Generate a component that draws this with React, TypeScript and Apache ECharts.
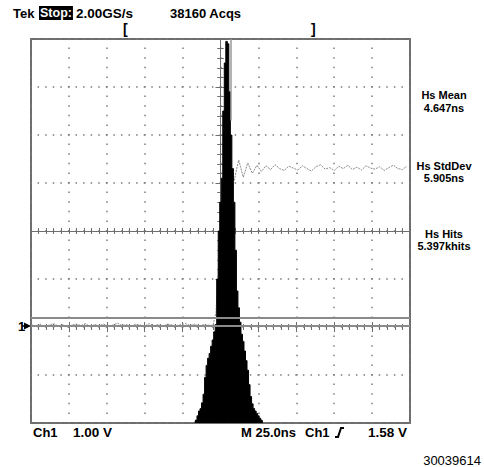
import React, { useEffect, useRef } from "react";
import * as echarts from "echarts";

// Histogram (time histogram of the rising edge), heights in screen divisions
const histStartNs = -17;
const histBinNs = 1;
const histHeightsDiv = [
  0.03, 0.06, 0.15, 0.25, 0.3, 0.42, 0.6, 0.95, 1.2, 1.35, 1.45, 1.6, 1.73, 1.9, 2.05, 3.0,
  4.0, 4.6, 5.1, 6.5, 7.5, 7.95, 7.9, 6.9, 6.0, 5.3, 4.6, 3.6, 2.75, 2.4, 2.1, 1.85, 1.7, 1.5,
  1.3, 1.1, 0.8, 0.55, 0.4, 0.3, 0.25, 0.2, 0.15, 0.1, 0.06, 0.03,
];

// Ch1 waveform samples (volts)
const lowStartNs = -125;
const sampleStepNs = 3;
const lowLevelVolts = [
  0.05, 0.02, 0.06, 0.01, 0.04, 0.07, 0.02, 0.05, 0.0, 0.04, 0.06, 0.03, 0.07, 0.01, 0.05, 0.03,
  0.06, 0.02, 0.04, 0.08, 0.03, 0.05, 0.01, 0.06, 0.04, 0.02, 0.07, 0.03, 0.05, 0.01, 0.06, 0.04,
  0.02, 0.05, 0.07, 0.03, 0.06, 0.02, 0.05, 0.04, 0.03,
];
const edgeTimesNs = [-3, -1, 1, 3];
const edgeVolts = [0.3, 1.4, 2.7, 3.4];
const highStartNs = 6;
const highLevelVolts = [
  3.52, 3.05, 3.48, 3.12, 3.42, 3.2, 3.37, 3.24, 3.36, 3.28, 3.38, 3.3, 3.26, 3.35, 3.31, 3.27,
  3.36, 3.3, 3.25, 3.34, 3.38, 3.29, 3.32, 3.26, 3.35, 3.3, 3.37, 3.28, 3.33, 3.27, 3.36, 3.31,
  3.29, 3.34, 3.26, 3.32, 3.37, 3.3, 3.28, 3.35,
];

// Histogram box limit lines (volts)
const boxLineVolts = [0.19, 0.03];

// Screen readouts
const topReadouts = ["Tek", "Stop:", "2.00GS/s", "38160 Acqs"];
const measLabels = [
  ["Hs Mean", "4.647ns"],
  ["Hs StdDev", "5.905ns"],
  ["Hs Hits", "5.397khits"],
];
const bottomReadouts = ["Ch1", "1.00 V", "M 25.0ns", "Ch1", "1.58 V"];
const figureId = "30039614";

const FRAME = "#6e6e6e";
const DOT = "#7a7a7a";
const SCOPE_FONT = "Liberation Sans";

export default function App() {
  const ref = useRef<HTMLDivElement>(null);
  useEffect(() => {
    const chart = echarts.init(ref.current!, null, { renderer: "svg" });
    const rect = { left: 31, top: 39, width: 379, height: 384 };

    const histData = histHeightsDiv.map((h, i) => [histStartNs + i * histBinNs, h]);
    const traceData: number[][] = [];
    lowLevelVolts.forEach((v, i) => traceData.push([lowStartNs + i * sampleStepNs, v]));
    edgeVolts.forEach((v, i) => traceData.push([edgeTimesNs[i], v]));
    highLevelVolts.forEach((v, i) => traceData.push([highStartNs + i * sampleStepNs, v]));

    const hidden = { show: false };
    const frameTick = {
      show: true,
      inside: true,
      length: 5,
      lineStyle: { color: FRAME, width: 1 },
    };
    const frameMinor = { show: true, splitNumber: 5, length: 3, lineStyle: { color: FRAME, width: 1 } };
    const centerTick = { show: true, inside: false, length: 3, lineStyle: { color: FRAME, width: 1 } };
    const centerMinor = { show: true, splitNumber: 5, length: 3, lineStyle: { color: FRAME, width: 1 } };
    const centerLine = { show: true, onZero: true, lineStyle: { color: FRAME, width: 1 } };

    const sfont = (size: number, weight = "bold") => ({
      fontFamily: SCOPE_FONT,
      fontSize: size,
      fontWeight: weight,
      fill: "#000",
    });

    const graphic: any[] = [
      { type: "text", x: 13, y: 13, style: { text: topReadouts[0], ...sfont(13), textVerticalAlign: "middle" } },
      {
        type: "text",
        x: 39,
        y: 13,
        style: {
          text: topReadouts[1],
          ...sfont(12.5),
          fill: "#fff",
          backgroundColor: "#000",
          padding: [1, 1, 0, 1],
          textVerticalAlign: "middle",
        },
      },
      { type: "text", x: 76, y: 13, style: { text: topReadouts[2], ...sfont(13.5), textVerticalAlign: "middle" } },
      { type: "text", x: 170, y: 13, style: { text: topReadouts[3], ...sfont(13), textVerticalAlign: "middle" } },
      { type: "text", x: 123, y: 29, style: { text: "[", ...sfont(14), textVerticalAlign: "middle" } },
      { type: "text", x: 311, y: 29, style: { text: "]", ...sfont(14), textVerticalAlign: "middle" } },
      { type: "text", x: 18, y: 326, style: { text: "1", ...sfont(13), textVerticalAlign: "middle" } },
      { type: "polygon", shape: { points: [[24, 322.5], [31, 326], [24, 329.5]] }, style: { fill: "#000" } },
      { type: "line", shape: { x1: 22, y1: 326, x2: 27, y2: 326 }, style: { stroke: "#000", lineWidth: 1.5 } },
      { type: "text", x: 33, y: 432, style: { text: bottomReadouts[0], ...sfont(13), textVerticalAlign: "middle" } },
      { type: "text", x: 73, y: 432, style: { text: bottomReadouts[1], ...sfont(13.5), textVerticalAlign: "middle" } },
      { type: "text", x: 241, y: 432, style: { text: bottomReadouts[2], ...sfont(13), textVerticalAlign: "middle" } },
      { type: "text", x: 305, y: 432, style: { text: bottomReadouts[3], ...sfont(13), textVerticalAlign: "middle" } },
      {
        type: "polyline",
        shape: { points: [[335, 437], [338, 437], [341, 428], [344, 428]] },
        style: { stroke: "#000", lineWidth: 2, fill: null },
      },
      { type: "text", x: 368, y: 432, style: { text: bottomReadouts[4], ...sfont(13.5), textVerticalAlign: "middle" } },
      {
        type: "text",
        x: 481,
        y: 460,
        style: {
          text: figureId,
          fontFamily: "Liberation Sans",
          fontSize: 13,
          fill: "#000",
          textAlign: "right",
          textVerticalAlign: "middle",
        },
      },
    ];
    const measY = [[95, 107.5], [165.5, 178], [233.5, 246]];
    measLabels.forEach((pair, i) => {
      pair.forEach((t, j) => {
        graphic.push({
          type: "text",
          x: 444,
          y: measY[i][j],
          style: { text: t, ...sfont(11), textAlign: "center", textVerticalAlign: "middle" },
        });
      });
    });

    const option: any = {
      animation: false,
      backgroundColor: "#fff",
      grid: [
        { ...rect, show: true, borderColor: FRAME, borderWidth: 2, backgroundColor: "transparent" },
        { ...rect, show: false },
        { ...rect, show: false },
      ],
      xAxis: [
        {
          gridIndex: 0,
          type: "value",
          min: -125,
          max: 125,
          interval: 25,
          position: "bottom",
          axisLine: hidden,
          axisLabel: hidden,
          axisTick: frameTick,
          minorTick: frameMinor,
          splitLine: {
            show: true,
            lineStyle: { color: DOT, width: 1.5, type: [1.5, 8.1], dashOffset: 0.75 },
          },
        },
        {
          gridIndex: 0,
          type: "value",
          min: -125,
          max: 125,
          interval: 25,
          position: "top",
          axisLine: hidden,
          axisLabel: hidden,
          axisTick: frameTick,
          minorTick: frameMinor,
          splitLine: hidden,
        },
        {
          gridIndex: 1,
          type: "value",
          min: -5,
          max: 5,
          interval: 1,
          position: "bottom",
          axisLine: centerLine,
          axisLabel: hidden,
          axisTick: centerTick,
          minorTick: centerMinor,
          splitLine: hidden,
        },
        {
          gridIndex: 1,
          type: "value",
          min: -5,
          max: 5,
          interval: 1,
          position: "top",
          axisLine: centerLine,
          axisLabel: hidden,
          axisTick: centerTick,
          minorTick: centerMinor,
          splitLine: hidden,
        },
        { gridIndex: 2, type: "value", min: -125, max: 125, show: false },
      ],
      yAxis: [
        {
          gridIndex: 0,
          type: "value",
          min: -2,
          max: 6,
          interval: 1,
          position: "left",
          axisLine: hidden,
          axisLabel: hidden,
          axisTick: frameTick,
          minorTick: frameMinor,
          splitLine: {
            show: true,
            lineStyle: { color: DOT, width: 1.5, type: [1.5, 6.08], dashOffset: 0.75 },
          },
        },
        {
          gridIndex: 0,
          type: "value",
          min: -2,
          max: 6,
          interval: 1,
          position: "right",
          axisLine: hidden,
          axisLabel: hidden,
          axisTick: frameTick,
          minorTick: frameMinor,
          splitLine: hidden,
        },
        {
          gridIndex: 1,
          type: "value",
          min: -4,
          max: 4,
          interval: 1,
          position: "left",
          axisLine: centerLine,
          axisLabel: hidden,
          axisTick: centerTick,
          minorTick: centerMinor,
          splitLine: hidden,
        },
        {
          gridIndex: 1,
          type: "value",
          min: -4,
          max: 4,
          interval: 1,
          position: "right",
          axisLine: centerLine,
          axisLabel: hidden,
          axisTick: centerTick,
          minorTick: centerMinor,
          splitLine: hidden,
        },
        { gridIndex: 2, type: "value", min: 0, max: 8, show: false },
      ],
      series: [
        {
          type: "line",
          name: "Ch1",
          xAxisIndex: 0,
          yAxisIndex: 0,
          data: traceData,
          symbol: "none",
          lineStyle: { color: "#8a8a8a", width: 1, type: [2, 1] },
          z: 2,
          silent: true,
        },
        {
          type: "line",
          name: "Histogram",
          xAxisIndex: 4,
          yAxisIndex: 4,
          data: histData,
          step: "middle",
          symbol: "none",
          lineStyle: { color: "#000", width: 1 },
          areaStyle: { color: "#000", opacity: 1, origin: "start" },
          z: 3,
          silent: true,
          markLine: {
            silent: true,
            symbol: "none",
            label: { show: false },
            lineStyle: { color: "#9a9a9a", width: 1.5, type: "solid" },
            data: [[{ coord: [7, 8] }, { coord: [7, 6.3] }]],
          },
        },
        {
          type: "line",
          name: "Box",
          xAxisIndex: 0,
          yAxisIndex: 0,
          data: [],
          z: 4,
          silent: true,
          markLine: {
            silent: true,
            symbol: "none",
            label: { show: false },
            lineStyle: { color: "#8a8a8a", width: 2, type: "solid" },
            data: boxLineVolts.map((v) => ({ yAxis: v })),
          },
        },
      ],
      graphic,
    };
    chart.setOption(option);
    return () => chart.dispose();
  }, []);
  return (
    <div
      ref={ref}
      style={{ position: "fixed", left: 0, top: 0, width: 484, height: 467, background: "#fff" }}
    />
  );
}
